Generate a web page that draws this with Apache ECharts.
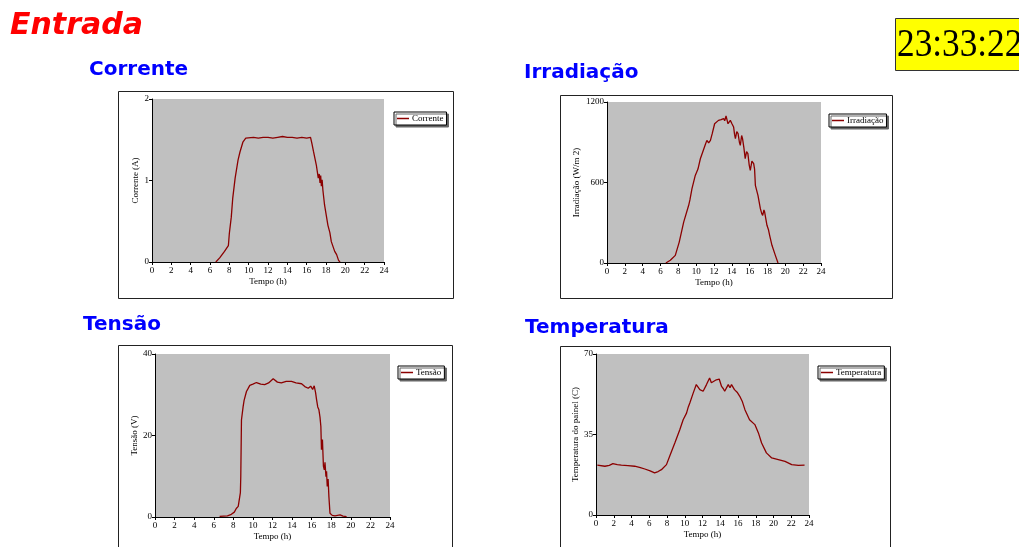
<!DOCTYPE html>
<html><head><meta charset="utf-8">
<script src="https://cdn.jsdelivr.net/npm/echarts@6/dist/echarts.min.js"></script>
<style>html,body{margin:0;padding:0;background:#fff;}#c{width:1019px;height:547px;}</style>
</head><body><div id="c"></div>
<script>
// ---- data (hours, values) ----
const xTicks = [0,2,4,6,8,10,12,14,16,18,20,22,24];

const correnteT = [6.6,7.0,7.5,7.9,8.0,8.2,8.35,8.6,8.9,9.1,9.4,9.7,9.9,10.5,11,11.5,12,12.5,13,13.5,14,14.5,15,15.5,16,16.4,16.55,16.7,16.8,17.0,17.2,17.3,17.38,17.45,17.52,17.6,17.68,17.85,18.2,18.4,18.55,18.9,19.1,19.3,19.45];
const correnteV = [0,0.05,0.13,0.2,0.35,0.55,0.78,1.03,1.25,1.35,1.47,1.52,1.53,1.53,1.52,1.53,1.53,1.52,1.53,1.54,1.53,1.53,1.52,1.53,1.52,1.53,1.45,1.36,1.38,1.19,1.03,1.08,0.97,1.06,0.93,1.01,0.88,0.7,0.45,0.36,0.25,0.13,0.09,0.02,0];

const irradT = [6.6,7.1,7.66,8.1,8.6,9.16,9.3,9.53,9.9,10.2,10.47,11.0,11.2,11.4,11.6,11.8,12.07,12.5,12.8,13.08,13.2,13.35,13.57,13.83,14.0,14.2,14.3,14.4,14.55,14.7,14.85,14.95,15.1,15.2,15.35,15.5,15.65,15.8,15.95,16.07,16.25,16.45,16.55,16.64,16.93,17.2,17.35,17.46,17.6,17.68,17.94,18.1,18.24,18.5,18.88,19.18];
const irradV = [0,20,57,156,305,430,470,554,653,700,777,877,914,895,914,964,1038,1063,1068,1076,1060,1096,1038,1063,1040,1014,960,927,980,964,900,877,950,927,860,777,830,815,730,690,760,740,700,579,504,405,370,355,395,380,281,250,206,132,57,0];

const tensaoT = [6.6,7.4,7.8,8.1,8.3,8.5,8.66,8.72,8.76,8.83,9.0,9.1,9.17,9.34,9.5,9.68,10.0,10.36,10.8,11.2,11.6,12.07,12.5,12.9,13.4,13.94,14.4,14.97,15.3,15.65,15.9,16.1,16.26,16.4,16.5,16.62,16.74,16.85,16.94,17.0,17.1,17.2,17.29,17.36,17.46,17.52,17.59,17.68,17.76,17.87,18.1,18.38,18.9,19.2,19.57];
const tensaoV = [0.15,0.3,0.65,1.2,2.1,2.6,2.5,6,9.9,23.8,27.1,28.6,28.8,30.8,31.5,32.3,32.6,33.0,32.6,32.5,32.9,33.9,33.1,32.9,33.3,33.3,32.9,32.7,32.0,31.6,32.1,31.3,32.2,30.5,28.8,27,26.3,24.5,22.2,16.5,19,12.5,11.6,13.4,9.9,11.2,7.5,9.3,5.0,0.9,0.4,0.3,0.5,0.2,0.1];

const tempT = [0.15,1.0,1.5,1.9,2.4,2.86,3.6,4.36,5.0,5.5,6.1,6.6,7.0,7.37,7.94,8.3,8.88,9.44,9.82,10.2,10.4,10.57,10.95,11.3,11.5,11.7,12.07,12.45,12.8,13.0,13.2,13.56,13.88,14.15,14.35,14.5,14.9,15.1,15.27,15.6,15.9,16.2,16.5,16.78,17.3,17.9,18.3,18.66,19.2,19.8,20.54,21.3,22.05,22.8,23.5];
const tempV = [21.7,21.2,21.6,22.3,21.9,21.7,21.5,21.2,20.6,20.0,19.2,18.3,18.9,19.7,21.9,25.5,31.3,37.1,41.4,44.3,47.0,48.7,53.0,56.7,55.9,54.5,53.8,56.7,59.6,57.5,57.4,58.8,59.1,55.9,54.9,53.8,56.7,55.3,56.7,54.5,53.4,51.6,49.2,45.8,41.4,39.3,35.7,31.3,27.0,24.8,24.1,23.3,21.9,21.6,21.7];

const charts = [
  {title:'Corrente', t:correnteT, v:correnteV, yName:'Corrente (A)', max:2, interval:1, yGap:10,
   grid:{left:152, top:99, width:232, height:163}, box:[118,91,335,207], legend:[394,112]},
  {title:'Irradiação', t:irradT, v:irradV, yName:'Irradiação (W/m 2)', max:1200, interval:600, yGap:26,
   grid:{left:607, top:102, width:214, height:161}, box:[560,95,332,203], legend:[829,114]},
  {title:'Tensão', t:tensaoT, v:tensaoV, yName:'Tensão (V)', max:40, interval:20, yGap:15,
   grid:{left:155, top:354, width:235, height:163}, box:[118,345,334,215], legend:[398,366]},
  {title:'Temperatura', t:tempT, v:tempV, yName:'Temperatura do painel (C)', max:70, interval:35, yGap:15,
   grid:{left:596, top:354, width:213, height:161}, box:[560,346,330,215], legend:[818,366]}
];
const titlePos = [[89,70],[524,73],[83,325],[525,328]];

const serif = 'Liberation Serif';
const grids=[], xAxes=[], yAxes=[], series=[], legends=[], graphics=[];

charts.forEach((c,i)=>{
  const b=c.box;
  graphics.push({type:'rect', shape:{x:b[0]+0.5,y:b[1]+0.5,width:b[2],height:b[3]}, style:{fill:'#fff',stroke:'#222',lineWidth:1}, z:-10});
  graphics.push({type:'text', x:titlePos[i][0], y:titlePos[i][1], style:{text:c.title, fill:'#0000ff', font:'bold 20px "DejaVu Sans"', textVerticalAlign:'middle'}});
  grids.push(Object.assign({show:true, backgroundColor:'#c0c0c0', borderWidth:0}, c.grid));
  xAxes.push({type:'value', gridIndex:i, min:0, max:24, interval:2,
    name:'Tempo (h)', nameLocation:'middle', nameGap:15,
    nameTextStyle:{fontFamily:serif, fontSize:9, color:'#000'},
    axisLine:{show:true, onZero:false, lineStyle:{color:'#000', width:1}},
    axisTick:{show:true, length:3, lineStyle:{color:'#000'}},
    axisLabel:{fontFamily:serif, fontSize:9, color:'#000', margin:4},
    splitLine:{show:false}});
  yAxes.push({type:'value', gridIndex:i, min:0, max:c.max, interval:c.interval,
    name:c.yName, nameLocation:'middle', nameGap:c.yGap, nameRotate:90,
    nameTextStyle:{fontFamily:serif, fontSize:9, color:'#000'},
    axisLine:{show:true, lineStyle:{color:'#000', width:1}},
    axisTick:{show:true, length:3, lineStyle:{color:'#000'}},
    axisLabel:{fontFamily:serif, fontSize:9, color:'#000', margin:3, formatter:(v)=>String(v)},
    splitLine:{show:false}});
  series.push({type:'line', name:c.title, xAxisIndex:i, yAxisIndex:i, showSymbol:false, symbol:'none',
    data:c.t.map((t,k)=>[t,c.v[k]]), lineStyle:{color:'#8b0000', width:1.3}, itemStyle:{color:'#8b0000'}, z:3});
  legends.push({data:[c.title], left:c.legend[0], top:c.legend[1], orient:'vertical',
    icon:'rect', itemWidth:12, itemHeight:1.5, itemGap:0, padding:[2,3,2,3],
    borderColor:'#000', borderWidth:1, backgroundColor:'#fff',
    shadowColor:'#666', shadowBlur:0, shadowOffsetX:2, shadowOffsetY:2,
    textStyle:{fontFamily:serif, fontSize:9, color:'#000', padding:[0,0,0,-2]}, selectedMode:false});
});

graphics.push({type:'text', x:10, y:26, style:{text:'Entrada', fill:'#ff0000', font:'italic bold 30px "DejaVu Sans"', textVerticalAlign:'middle'}});
graphics.push({type:'rect', shape:{x:895.5,y:18.5,width:130,height:52}, style:{fill:'#ffff00', stroke:'#333', lineWidth:1}});
graphics.push({type:'text', x:897, y:45, scaleX:0.86, originX:0, originY:0, z:10, style:{text:'23:33:22', fill:'#000', font:'41px "Liberation Serif"', textVerticalAlign:'middle'}});

const chart = echarts.init(document.getElementById('c'), null, {renderer:'canvas'});
chart.setOption({
  animation:false,
  grid:grids, xAxis:xAxes, yAxis:yAxes, series:series, legend:legends, graphic:graphics
});
</script></body></html>
